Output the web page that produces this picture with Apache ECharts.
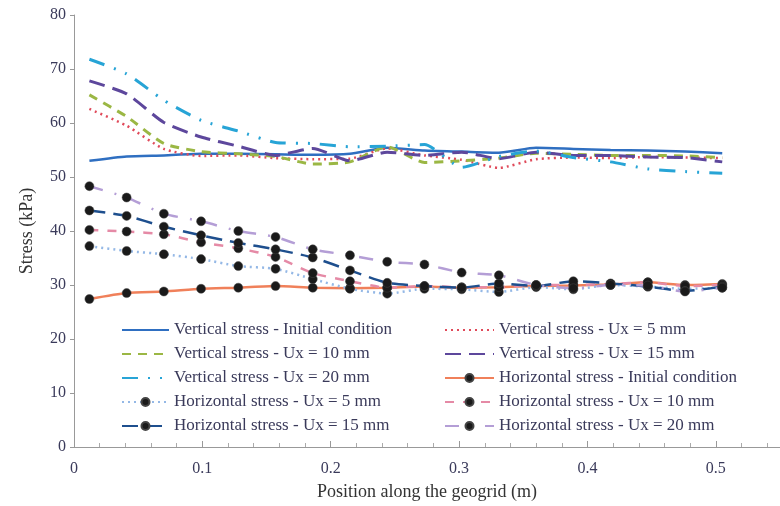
<!DOCTYPE html>
<html>
<head>
<meta charset="utf-8">
<script src="https://cdn.jsdelivr.net/npm/echarts@6/dist/echarts.min.js"></script>
<style>html,body{margin:0;padding:0;background:#fff}#c{width:780px;height:506px}</style>
</head>
<body>
<div id="c"></div>
<script>
// Positions along the geogrid (m)
const positions = [0.012, 0.041, 0.070, 0.099, 0.128, 0.157, 0.186, 0.215, 0.244, 0.273, 0.302, 0.331, 0.360, 0.389, 0.418, 0.447, 0.476, 0.505];

// Vertical stress (kPa)
const vInit = [53.0, 53.8, 54.0, 54.3, 54.3, 54.2, 54.1, 54.3, 55.4, 54.9, 54.7, 54.5, 55.4, 55.2, 55.0, 54.9, 54.7, 54.4];
const v5  = [62.6, 59.5, 55.2, 53.9, 54.0, 53.5, 53.3, 53.4, 55.3, 54.0, 53.2, 51.7, 53.3, 53.6, 53.5, 53.7, 53.6, 53.5];
const v10 = [65.2, 61.2, 56.2, 54.7, 54.3, 53.8, 52.4, 52.8, 55.6, 52.7, 53.0, 53.5, 54.4, 54.2, 54.0, 54.0, 53.9, 53.6];
const v15 = [67.8, 65.4, 60.1, 57.4, 55.7, 54.0, 55.3, 53.0, 54.6, 54.0, 54.6, 53.4, 54.6, 54.0, 54.0, 53.7, 53.6, 52.8];
const v20 = [71.8, 69.1, 64.2, 60.5, 58.5, 56.4, 56.2, 55.6, 55.7, 56.0, 51.8, 53.8, 54.8, 53.6, 52.8, 51.5, 51.0, 50.7];

// Horizontal stress (kPa)
const hInit = [27.4, 28.5, 28.8, 29.3, 29.5, 29.8, 29.5, 29.4, 29.5, 29.7, 29.5, 29.6, 29.8, 29.9, 30.1, 30.5, 30.0, 30.2];
const h5  = [37.2, 36.3, 35.7, 34.8, 33.5, 33.0, 31.1, 29.3, 28.4, 29.3, 29.2, 28.7, 29.6, 29.2, 30.0, 29.7, 29.3, 29.5];
const h10 = [40.2, 39.9, 39.4, 37.9, 36.8, 35.2, 32.2, 30.7, 29.5, 29.8, 29.6, 29.6, 30.0, 30.0, 30.2, 30.5, 29.8, 30.0];
const h15 = [43.8, 42.8, 40.8, 39.2, 37.8, 36.6, 35.1, 32.7, 30.4, 29.8, 29.5, 30.3, 29.8, 30.7, 30.3, 29.7, 28.9, 29.7];
const h20 = [48.3, 46.2, 43.2, 41.8, 40.0, 38.9, 36.6, 35.5, 34.3, 33.8, 32.3, 31.8, 30.0, 29.4, 30.0, 29.9, 28.8, 29.5];

const names = {
  vInit: 'Vertical stress - Initial condition',
  v5: 'Vertical stress - Ux = 5 mm',
  v10: 'Vertical stress - Ux = 10 mm',
  v15: 'Vertical stress - Ux = 15 mm',
  v20: 'Vertical stress - Ux = 20 mm',
  hInit: 'Horizontal stress - Initial condition',
  h5: 'Horizontal stress - Ux = 5 mm',
  h10: 'Horizontal stress - Ux = 10 mm',
  h15: 'Horizontal stress - Ux = 15 mm',
  h20: 'Horizontal stress - Ux = 20 mm'
};

const xTicks = [0, 0.1, 0.2, 0.3, 0.4, 0.5];
const yTicks = [0, 10, 20, 30, 40, 50, 60, 70, 80];

function pts(arr) { return positions.map((x, i) => [x, arr[i]]); }

function vSeries(name, arr, color, dash, width) {
  return {
    name: name, type: 'line', data: pts(arr), symbol: 'none', showSymbol: false, smooth: 0.2,
    lineStyle: { color: color, width: width || 2.5, type: dash },
    itemStyle: { color: color }, z: 2
  };
}
function hSeries(name, arr, color, dash) {
  return {
    name: name, type: 'line', data: pts(arr), symbol: 'circle', symbolSize: 9, smooth: 0.2,
    lineStyle: { color: color, width: 2.5, type: dash },
    itemStyle: { color: '#1a1a1a', borderColor: '#444', borderWidth: 0.5 }, z: 3
  };
}
function vLeg(name) { return { name: name, itemStyle: { opacity: 0 } }; }

const fontFam = '"Liberation Serif", "DejaVu Serif", serif';
const textCol = '#3a3a5a';

const option = {
  animation: false,
  backgroundColor: '#ffffff',
  grid: { left: 74, top: 15, width: 708, bottom: 58, containLabel: false },
  xAxis: {
    type: 'value', min: 0, max: 0.55, interval: 0.1,
    name: 'Position along the geogrid (m)', nameLocation: 'middle', nameGap: 36,
    nameTextStyle: { fontFamily: fontFam, fontSize: 18, color: '#333' },
    axisLine: { lineStyle: { color: '#999', width: 1 } },
    axisTick: { inside: true, length: 6, lineStyle: { color: '#999' } },
    minorTick: { show: true, splitNumber: 5, length: 4, lineStyle: { color: '#aaa' } },
    splitLine: { show: false },
    axisLabel: {
      fontFamily: fontFam, fontSize: 16, color: textCol, margin: 14, showMaxLabel: false,
      formatter: function (v) { return xTicks.indexOf(Math.round(v * 10) / 10) >= 0 ? String(Math.round(v * 10) / 10) : ''; }
    }
  },
  yAxis: {
    type: 'value', min: 0, max: 80, interval: 10,
    name: 'Stress (kPa)', nameLocation: 'middle', nameGap: 38,
    nameTextStyle: { fontFamily: fontFam, fontSize: 18, color: '#333' },
    axisLine: { show: true, lineStyle: { color: '#999', width: 1 } },
    axisTick: { show: true, inside: false, length: 4, lineStyle: { color: '#999' } },
    splitLine: { show: false },
    axisLabel: {
      fontFamily: fontFam, fontSize: 16, color: textCol, margin: 8,
      formatter: function (v) { return yTicks.indexOf(v) >= 0 ? String(v) : ''; }
    }
  },
  legend: [
    {
      orient: 'vertical', left: 116, top: 316, itemWidth: 47, itemHeight: 10, itemGap: 6,
      textStyle: { fontFamily: fontFam, fontSize: 17, color: textCol, lineHeight: 18 },
      data: [vLeg(names.vInit), vLeg(names.v10), vLeg(names.v20), names.h5, names.h15]
    },
    {
      orient: 'vertical', left: 439, top: 316, itemWidth: 49, itemHeight: 10, itemGap: 6,
      textStyle: { fontFamily: fontFam, fontSize: 17, color: textCol, lineHeight: 18 },
      data: [vLeg(names.v5), vLeg(names.v15), names.hInit, names.h10, names.h20]
    }
  ],
  series: [
    vSeries(names.vInit, vInit, '#2f6fc1', 'solid', 2.5),
    vSeries(names.v5, v5, '#e04a5a', [2, 4], 2.5),
    vSeries(names.v10, v10, '#9bb744', [9, 7], 3),
    vSeries(names.v15, v15, '#5d479c', [16, 8], 3),
    vSeries(names.v20, v20, '#27a4d6', [16, 10, 2, 10, 2, 10], 3),
    hSeries(names.hInit, hInit, '#f0805a', 'solid'),
    hSeries(names.h5, h5, '#94b8e6', [2, 4]),
    hSeries(names.h10, h10, '#e58aa6', [9, 9]),
    hSeries(names.h15, h15, '#1e4f8e', [16, 8]),
    hSeries(names.h20, h20, '#b49ed6', [14, 12, 2, 12])
  ]
};

const chart = echarts.init(document.getElementById('c'), null, { renderer: 'canvas' });
chart.setOption(option);
</script>
</body>
</html>
